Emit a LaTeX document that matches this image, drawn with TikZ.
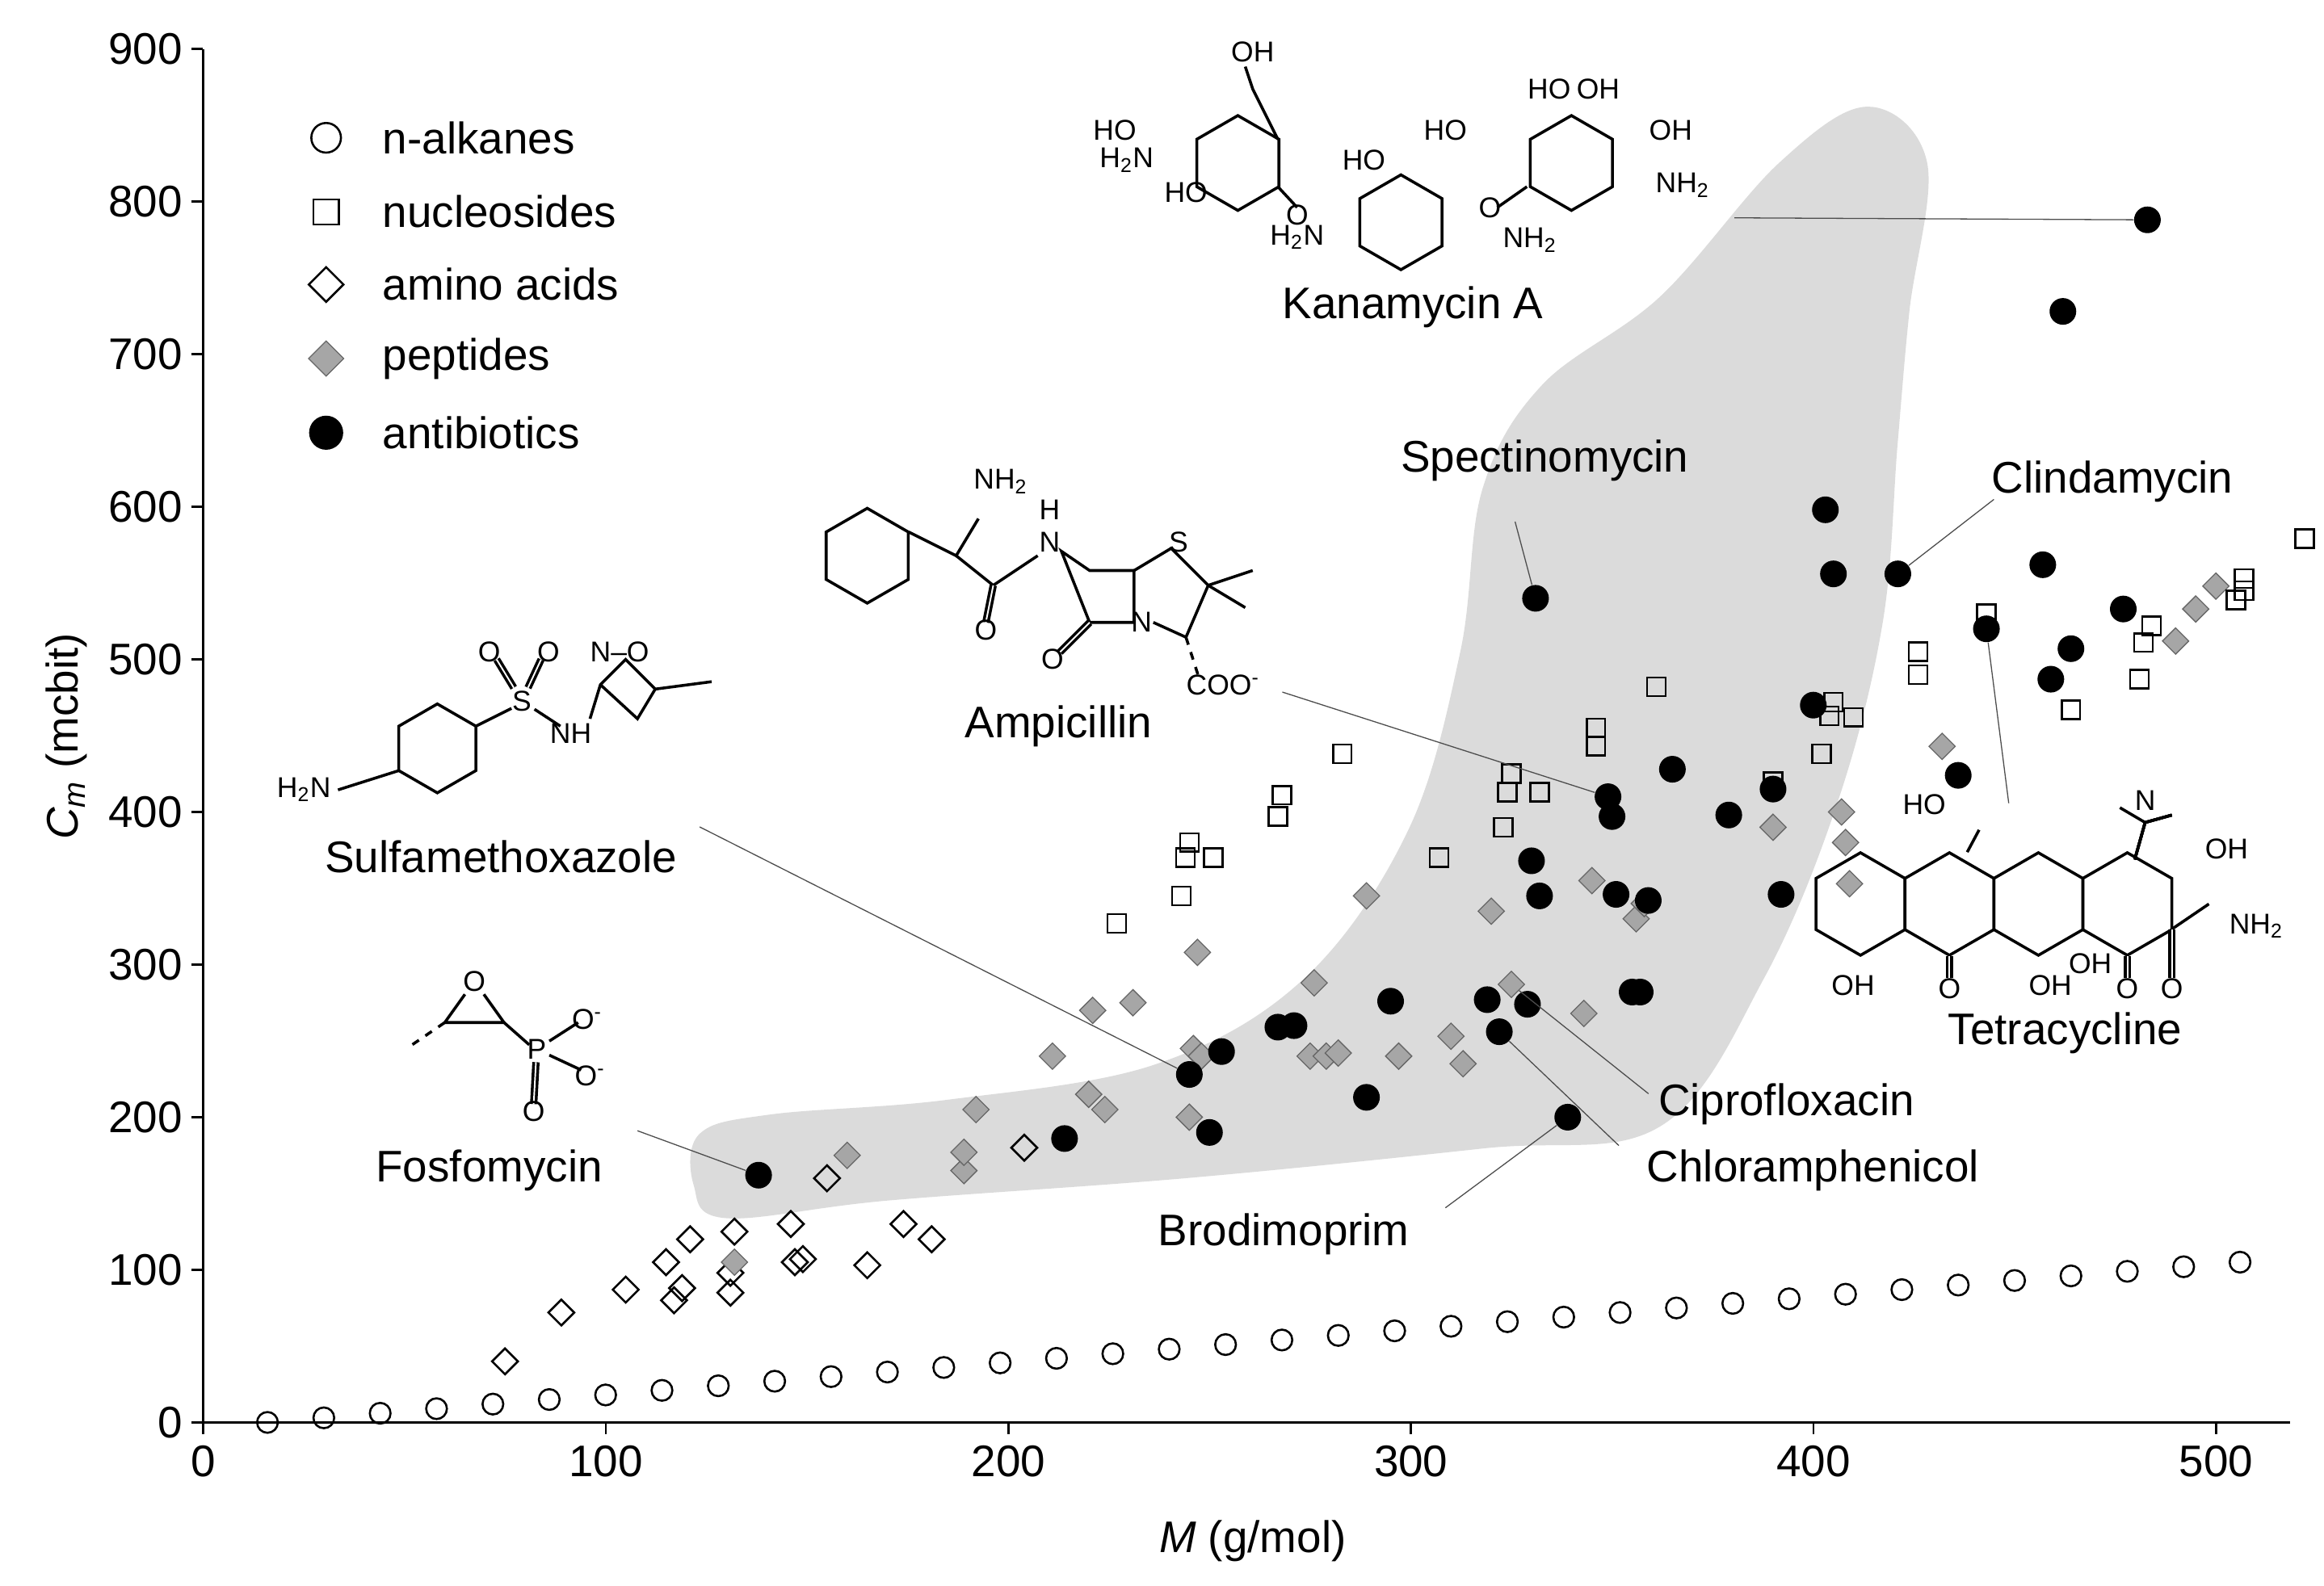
\documentclass[tikz,border=0pt]{standalone}
\usepackage{fontspec}
\setmainfont{Liberation Sans}
\usetikzlibrary{shapes.geometric}
\tikzset{
  alk/.style={circle, draw, thick, inner sep=0, minimum size=0.28cm},
  nuc/.style={rectangle, draw, thick, inner sep=0, minimum size=0.25cm},
  amino/.style={diamond, draw, thick, inner sep=0, minimum size=0.36cm},
  pep/.style={diamond, draw=black!60, fill=black!35, inner sep=0, minimum size=0.36cm},
  abx/.style={circle, fill=black, inner sep=0, minimum size=0.36cm},
  lbl/.style={font=\fontsize{17}{20}\selectfont},
  chem/.style={font=\fontsize{11}{12}\selectfont, inner sep=1pt},
  lead/.style={black!70, thin},
  bond/.style={line width=1.1pt}
}
\newcommand{\hexat}[3]{\draw[bond, shift={(#1,#2)}] (30:#3) -- (90:#3) -- (150:#3) -- (210:#3) -- (270:#3) -- (330:#3) -- cycle;}
\begin{document}
\begin{tikzpicture}
\useasboundingbox (0,0) rectangle (31.36,21.4);

% pixel frame of the picture
\begin{scope}[x=0.02cm, y=-0.02cm, shift={(0,21.4cm)}]

    % Shaded region
    \fill[black!14] plot[smooth cycle, tension=0.6] coordinates {(468,800) (472,765) (520,752) (640,742) (780,718) (880,660) (950,560) (985,440) (1000,330) (1040,260) (1120,200) (1200,110) (1260,72) (1300,110) (1288,210) (1280,300) (1270,420) (1240,540) (1190,660) (1120,760) (1000,775) (800,795) (600,810) (490,822)};

    % Axes
    \draw[thick] (137,33) -- (137,960) -- (1545,960);
    \foreach \v [count=\k from 0] in {0,100,...,900}
        \draw[thick] (137,960-103*\k) -- (129,960-103*\k) node[left, lbl, inner sep=3pt] {\v};
    \foreach \v [count=\k from 0] in {0,100,...,500}
        \draw[thick] (137+271.6*\k,960) -- (137+271.6*\k,968) node[below, lbl, inner sep=4pt] {\v};
    \node[lbl, rotate=90] (ytitle) at (45,497) {\textit{C\textsubscript{m}} (mcbit)};
    \node[lbl] (xtitle) at (845,1040) {\textit{M} (g/mol)};

    % Legend
    \node[alk, minimum size=0.4cm] (k1) at (220,93) {};
    \node[nuc, minimum size=0.34cm] (k2) at (220,143) {};
    \node[amino, minimum size=0.48cm] (k3) at (220,192) {};
    \node[pep, minimum size=0.48cm] (k4) at (220,242) {};
    \node[abx, minimum size=0.46cm] (k5) at (220,292) {};
    \node[lbl, anchor=west] at (252,93) {n-alkanes};
    \node[lbl, anchor=west] at (252,143) {nucleosides};
    \node[lbl, anchor=west] at (252,192) {amino acids};
    \node[lbl, anchor=west] at (252,242) {peptides};
    \node[lbl, anchor=west] at (252,292) {antibiotics};

    % Compound labels
    \node[lbl] (kanT) at (953,207) {Kanamycin A};
    \node[lbl] (speT) at (1042,311) {Spectinomycin};
    \node[lbl] (cliT) at (1425,325) {Clindamycin};
    \node[lbl] (ampT) at (714,490) {Ampicillin};
    \node[lbl] (sulT) at (338,578) {Sulfamethoxazole};
    \node[lbl] (fosT) at (330,790) {Fosfomycin};
    \node[lbl] (tetT) at (1393,697) {Tetracycline};
    \node[lbl] (cipT) at (1205,745) {Ciprofloxacin};
    \node[lbl] (chlT) at (1223,790) {Chloramphenicol};
    \node[lbl] (broT) at (866,833) {Brodimoprim};
    \coordinate (kanE) at (1170,147);
    \coordinate (speE) at (1022,352);
    \coordinate (cliE) at (1345,337);
    \coordinate (ampE) at (865,467);
    \coordinate (sulE) at (472,558);
    \coordinate (fosE) at (430,763);
    \coordinate (tetE) at (1355,542);
    \coordinate (cipE) at (1112,738);
    \coordinate (chlE) at (1092,773);
    \coordinate (broE) at (975,815);

    % Fosfomycin
    \node[chem] (fosO) at (320,662) {O};
    \draw[bond] (fosO) -- (300,690) -- (340,690) -- (fosO);
    \draw[bond, dashed] (300,690) -- (278,705);
    \draw[bond] (340,690) -- (357,705);
    \node[chem] (fosP) at (362,708) {P};
    \draw[bond] (fosP) -- (390,690);
    \node[chem] at (396,688) {O\textsuperscript{-}};
    \draw[bond] (fosP) -- (392,722);
    \node[chem] at (398,726) {O\textsuperscript{-}};
    \draw[bond, double] (fosP) -- (360,745);
    \node[chem] at (360,750) {O};

    % Sulfamethoxazole
    \hexat{295}{505}{30}
    \node[chem] at (205,533) {H\textsubscript{2}N};
    \draw[bond] (269,520) -- (228,533);
    \draw[bond] (321,490) -- (345,478);
    \node[chem] (sulS) at (352,473) {S};
    \draw[bond, double] (sulS) -- (335,445); \node[chem] at (330,440) {O};
    \draw[bond, double] (sulS) -- (365,445); \node[chem] at (370,440) {O};
    \draw[bond] (sulS) -- (378,490);
    \node[chem] at (385,495) {N\\[-3pt]H};
    \draw[bond] (398,485) -- (405,462) -- (422,445) -- (442,465) -- (430,485) -- (405,462);
    \node[chem] at (418,440) {N--O};
    \draw[bond] (442,465) -- (480,460);

    % Ampicillin
    \hexat{585}{375}{32}
    \draw[bond] (613,359) -- (645,375) -- (660,350);
    \node[chem] at (675,325) {NH\textsubscript{2}};
    \draw[bond] (645,375) -- (670,395) -- (700,375);
    \draw[bond, double] (670,395) -- (665,420); \node[chem] at (665,425) {O};
    \node[chem] at (708,344) {H}; \node[chem] at (708,366) {N};
    \draw[bond] (716,372) -- (735,385) -- (765,385) -- (765,420) -- (735,420) -- cycle;
    \draw[bond, double] (735,420) -- (715,440); \node[chem] at (710,445) {O};
    \node[chem] at (770,420) {N};
    \draw[bond] (765,385) -- (790,370) -- (815,395) -- (800,430) -- (778,420);
    \node[chem] at (795,366) {S};
    \draw[bond] (815,395) -- (845,385); \draw[bond] (815,395) -- (840,410);
    \draw[bond, dashed] (800,430) -- (808,455);
    \node[chem] at (825,462) {COO\textsuperscript{-}};

    % Kanamycin A
    \hexat{835}{110}{32}
    \hexat{945}{150}{32}
    \hexat{1060}{110}{32}
    \node[chem] at (845,35) {OH};
    \draw[bond] (862,94) -- (845,60) -- (840,45);
    \node[chem] at (752,88) {HO};
    \node[chem] at (760,108) {H\textsubscript{2}N};
    \node[chem] at (800,130) {HO};
    \draw[bond] (862,126) -- (875,140);
    \node[chem] at (875,145) {O};
    \node[chem] at (920,108) {HO};
    \node[chem] at (875,160) {H\textsubscript{2}N};
    \draw[bond] (1010,140) -- (1030,126);
    \node[chem] at (1005,140) {O};
    \node[chem] at (1032,162) {NH\textsubscript{2}};
    \node[chem] at (975,88) {HO};
    \node[chem] at (1045,60) {HO};
    \node[chem] at (1078,60) {OH};
    \node[chem] at (1127,88) {OH};
    \node[chem] at (1135,125) {NH\textsubscript{2}};

    % Tetracycline
    \foreach \cx in {1255,1315,1375,1435} \hexat{\cx}{610}{34.6}
    \draw[bond] (1440,580) -- (1447,555) -- (1465,550);
    \draw[bond] (1447,555) -- (1430,545);
    \node[chem] at (1447,540) {N};
    \draw[bond] (1335,560) -- (1327,575);
    \node[chem] at (1298,543) {HO};
    \node[chem] at (1502,573) {OH};
    \draw[bond] (1465,627) -- (1490,610);
    \draw[bond, double] (1465,627) -- (1465,660); \node[chem] at (1465,667) {O};
    \node[chem] at (1522,625) {NH\textsubscript{2}};
    \node[chem] at (1250,665) {OH};
    \draw[bond, double] (1315,645) -- (1315,660); \node[chem] at (1315,667) {O};
    \node[chem] at (1383,665) {OH};
    \node[chem] at (1410,650) {OH};
    \draw[bond, double] (1435,645) -- (1435,660); \node[chem] at (1435,667) {O};
\end{scope}

% data frame of the picture
\begin{scope}[x=0.05432cm, y=0.0206cm, shift={(2.74cm,2.2cm)}]
    % n-alkanes
    \foreach \n in {1,...,36}
        \node[alk] (alk\n) at ({14*\n+2},{3*(\n-1)}) {};
    % amino acids
    \foreach \m/\c [count=\i] in {75/40,89/72,105/87,115/105,117/80,119/88,121/120,131/85,131/98,132/125,146/130,147/105,149/107,155/160,165/103,174/130,181/120,204/180}
        \node[amino] (aa\i) at (\m,\c) {};
    % peptides
    \foreach \m/\c [count=\i] in {132/105,160/175,189/165,189/177,192/205,211/240,220/215,221/270,224/205,231/275,245/200,246/245,247/308,248/240,275/240,276/288,279/240,282/242,289/345,297/240,310/253,313/235,320/335,325/287,343/268,345/355,356/330,358/340,390/390,407/400,408/380,409/353,432/443,490/512,495/533,500/548}
        \node[pep] (pep\i) at (\m,\c) {};
    % nucleosides
    \foreach \m/\c [count=\i] in {227/327,243/345,244/370,245/380,251/370,267/397,268/411,283/438,307/370,323/390,324/413,325/425,332/413,346/443,346/455,361/482,390/420,402/438,404/463,405/472,410/462,426/490,426/505,443/530,464/467,481/487,482/511,484/522,505/539,507/545,507/553,522/579}
        \node[nuc] (nuc\i) at (\m,\c) {};
    % antibiotics
    \foreach \m/\c [count=\i] in {214/186,250/190,253/243,267/259,271/260,289/213,295/276,319/277,329/274,330/368,332/345,350/397,351/346,355/282,357/282,359/342,365/428,379/398,390/415,392/346,400/470,403/598,405/556,436/424,457/562,459/487,462/728,464/507,477/533}
        \node[abx] (abx\i) at (\m,\c) {};
    \node[abx] (kan) at (483,788) {};
    \node[abx] (spe) at (331,540) {};
    \node[abx] (cli) at (421,556) {};
    \node[abx] (amp) at (349,410) {};
    \node[abx] (sul) at (245,228) {};
    \node[abx] (fos) at (138,162) {};
    \node[abx] (tet) at (443,520) {};
    \node[abx] (chl) at (322,256) {};
    \node[abx] (bro) at (339,200) {};
\end{scope}

% Leader lines
\draw[lead] (kanE) -- (kan);
\draw[lead] (speE) -- (spe);
\draw[lead] (cliE) -- (cli);
\draw[lead] (ampE) -- (amp);
\draw[lead] (sulE) -- (sul);
\draw[lead] (fosE) -- (fos);
\draw[lead] (tetE) -- (tet);
\draw[lead] (cipE) -- (pep24);
\draw[lead] (chlE) -- (chl);
\draw[lead] (broE) -- (bro);
\end{tikzpicture}
\end{document}
